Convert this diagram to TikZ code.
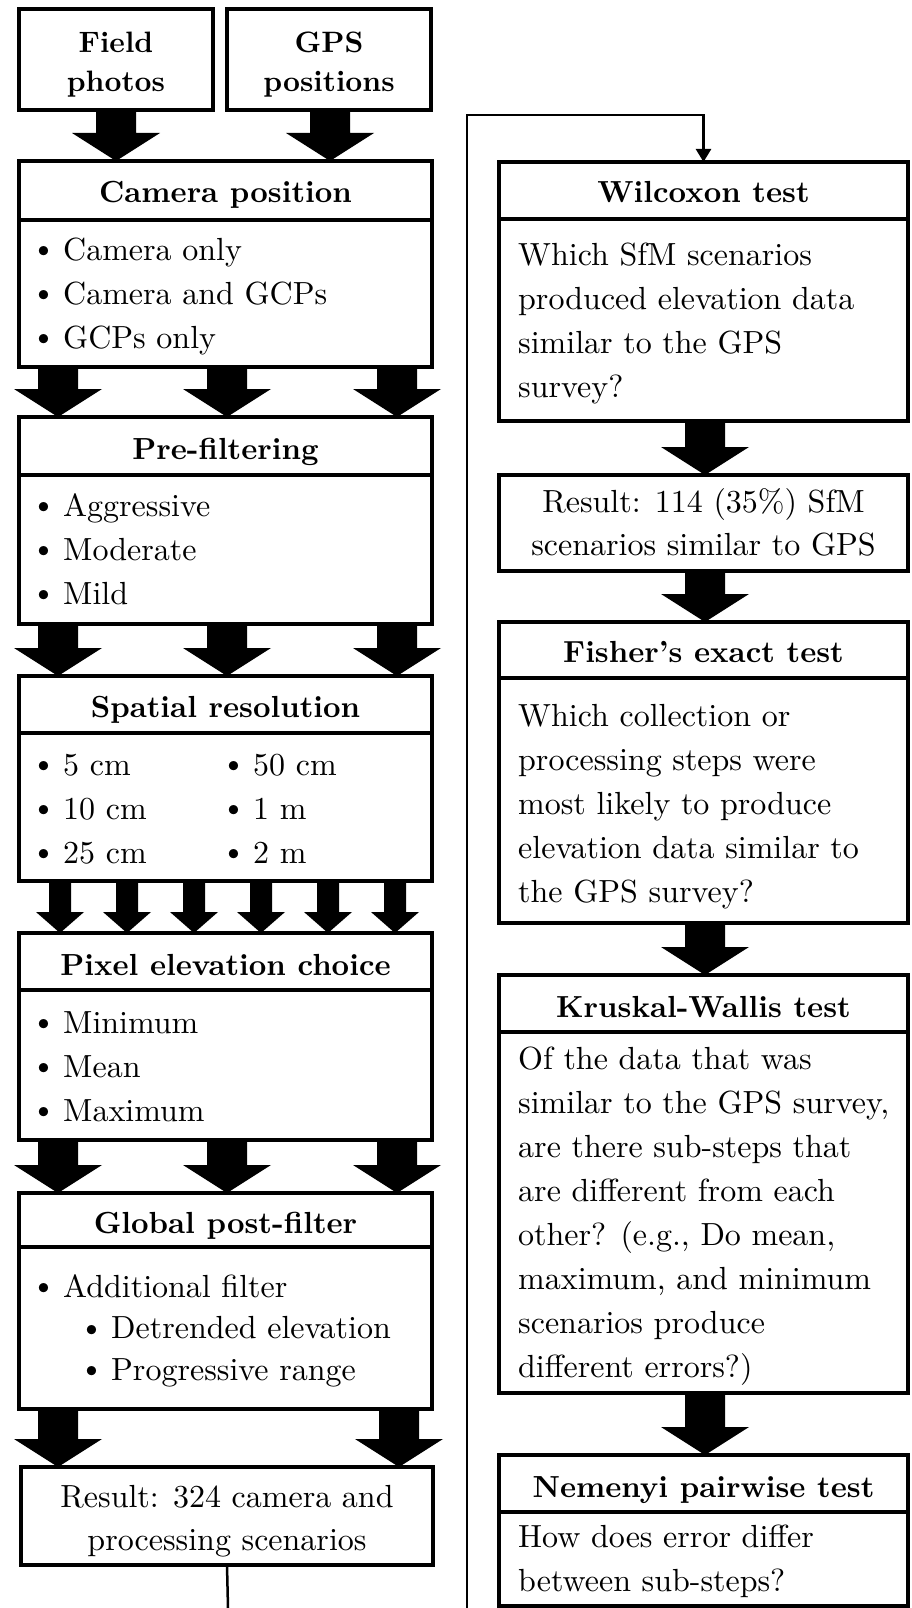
\documentclass[tikz,border=0pt]{standalone}
\usepackage{fontspec}
\setmainfont{lmroman10-regular.otf}[BoldFont=lmroman10-bold.otf, ItalicFont=lmroman10-italic.otf]
\usetikzlibrary{calc,arrows.meta}
\newcommand\blockarr[6]{%
  \fill let \p1=(#2.south), \p2=(#3.north) in
   ({#1pt-#4pt},\y1) -- ({#1pt+#4pt},\y1) -- ({#1pt+#4pt},{\y2+#6pt})
   -- ({#1pt+#5pt},{\y2+#6pt}) -- ({#1pt},\y2) -- ({#1pt-#5pt},{\y2+#6pt})
   -- ({#1pt-#4pt},{\y2+#6pt}) -- cycle;}
\newcommand\barr[3]{\blockarr{#1}{#2}{#3}{20}{44}{28}}
\newcommand\sarr[3]{\blockarr{#1}{#2}{#3}{11}{24}{21}}
\newcommand\blt{\makebox[32pt][l]{\raisebox{1.5pt}{\textbullet}}}
\newcommand\fst{\rule{0pt}{25pt}}
\begin{document}
\begin{tikzpicture}[x=1pt,y=-1pt,
  box/.style={draw, line width=4pt, inner sep=0pt, outer sep=0pt, anchor=north west, line join=miter},
  divline/.style={line width=4pt},
  head/.style={font=\fontsize{30.5}{38}\selectfont\bfseries, anchor=base, inner sep=0pt},
  body/.style={font=\fontsize{32}{44}\selectfont, anchor=north west, inner sep=0pt, align=left},
  ctext/.style={font=\fontsize{32}{43}\selectfont, anchor=north, inner sep=0pt, align=center},
  conn/.style={line width=2.5pt}]
\useasboundingbox (0,0) rectangle (911,1608);
\fill[white] (0,0) rectangle (911,1608);

% ---------- left column boxes ----------
\node[box, minimum width=194pt, minimum height=101pt] (fld) at (19,9) {};
\node[box, minimum width=204pt, minimum height=101pt] (gps) at (227,9) {};
\node[box, minimum width=413pt, minimum height=206pt] (cam) at (19,161) {};
\node[box, minimum width=413pt, minimum height=207pt] (pre) at (19,417) {};
\node[box, minimum width=413pt, minimum height=205pt] (spa) at (19,676) {};
\node[box, minimum width=413pt, minimum height=207pt] (pix) at (19,933) {};
\node[box, minimum width=413pt, minimum height=216pt] (glo) at (19,1193) {};
\node[box, minimum width=412pt, minimum height=98pt] (res1) at (21,1467) {};

% ---------- right column boxes ----------
\node[box, minimum width=409pt, minimum height=259pt] (wil) at (499,162) {};
\node[box, minimum width=409pt, minimum height=96pt] (res2) at (499,475) {};
\node[box, minimum width=409pt, minimum height=301pt] (fis) at (499,622) {};
\node[box, minimum width=409pt, minimum height=418pt] (kru) at (499,975) {};
\node[box, minimum width=409pt, minimum height=151pt] (nem) at (499,1455) {};

% ---------- dividers ----------
\foreach \bx/\dd in {cam/59,pre/58,spa/57,pix/57,glo/54,wil/57,fis/56,kru/57,nem/57}{
  \draw[divline] ([yshift=-\dd pt]\bx.north west) -- ([yshift=-\dd pt]\bx.north east);
}

% ---------- texts ----------
\node[ctext, font=\fontsize{29.5}{39}\selectfont\bfseries] (fldt) at (116,27) {\fst Field\\photos};
\node[ctext, font=\fontsize{29.5}{39}\selectfont\bfseries] (gpst) at (329,27) {\fst GPS\\positions};

\node[head] (camh) at (225.5,203) {Camera position};
\node[body] (camb) at (31,235) {\fst\blt Camera only\\\blt Camera and GCPs\\\blt GCPs only};

\node[head] (preh) at (225.5,459) {Pre-filtering};
\node[body] (preb) at (31,491) {\fst\blt Aggressive\\\blt Moderate\\\blt Mild};

\node[head] (spah) at (225.5,717) {Spatial resolution};
\node[body] (spab1) at (31,750) {\fst\blt 5 cm\\\blt 10 cm\\\blt 25 cm};
\node[body] (spab2) at (221,750) {\fst\blt 50 cm\\\blt 1 m\\\blt 2 m};

\node[head] (pixh) at (225.5,975) {Pixel elevation choice};
\node[body] (pixb) at (31,1008) {\fst\blt Minimum\\\blt Mean\\\blt Maximum};

\node[head] (gloh) at (225.5,1233) {Global post-filter};
\node[body, font=\fontsize{32}{41.5}\selectfont] (glob) at (31,1272) {\fst\blt Additional filter\\\hspace*{48pt}\blt Detrended elevation\\\hspace*{48pt}\blt Progressive range};

\node[ctext] (res1t) at (227,1482) {\fst Result: 324 camera and\\processing scenarios};

\node[head] (wilh) at (703.5,203) {Wilcoxon test};
\node[body] (wilb) at (518,240) {\fst Which SfM scenarios\\produced elevation data\\similar to the GPS\\survey?};

\node[ctext] (res2t) at (703.5,487) {\fst Result: 114 (35\%) SfM\\scenarios similar to GPS};

\node[head] (fish) at (703.5,662) {Fisher’s exact test};
\node[body] (fisb) at (518,701) {\fst Which collection or\\processing steps were\\most likely to produce\\elevation data similar to\\the GPS survey?};

\node[head] (kruh) at (703.5,1017) {Kruskal-Wallis test};
\node[body] (krub) at (518,1044) {\fst Of the data that was\\similar to the GPS survey,\\are there sub-steps that\\are different from each\\other? (e.g., Do mean,\\maximum, and minimum\\scenarios produce\\different errors?)};

\node[head] (nemh) at (703.5,1497) {Nemenyi pairwise test};
\node[body] (nemb) at (518,1522) {\fst How does error differ\\between sub-steps?};

% ---------- block arrows ----------
\barr{116}{fld}{cam}
\barr{330}{gps}{cam}
\foreach \xx in {58,227,397}{\barr{\xx}{cam}{pre}}
\foreach \xx in {58,227,397}{\barr{\xx}{pre}{spa}}
\foreach \xx in {60,127,194,261,328,395}{\sarr{\xx}{spa}{pix}}
\foreach \xx in {58,227,397}{\barr{\xx}{pix}{glo}}
\barr{58}{glo}{res1}
\barr{399}{glo}{res1}
\barr{705}{wil}{res2}
\barr{705}{res2}{fis}
\barr{705}{fis}{kru}
\barr{705}{kru}{nem}

% ---------- thin connector ----------
\coordinate (b1) at (228,1608);
\coordinate (b2) at (467,1608);
\coordinate (t1) at (467,115);
\draw[conn] (res1.south) -- (b1);
\draw[conn, -{Triangle[width=15pt,length=13pt]}] (b2) -- (t1) -| (wil.north);
\end{tikzpicture}
\end{document}
